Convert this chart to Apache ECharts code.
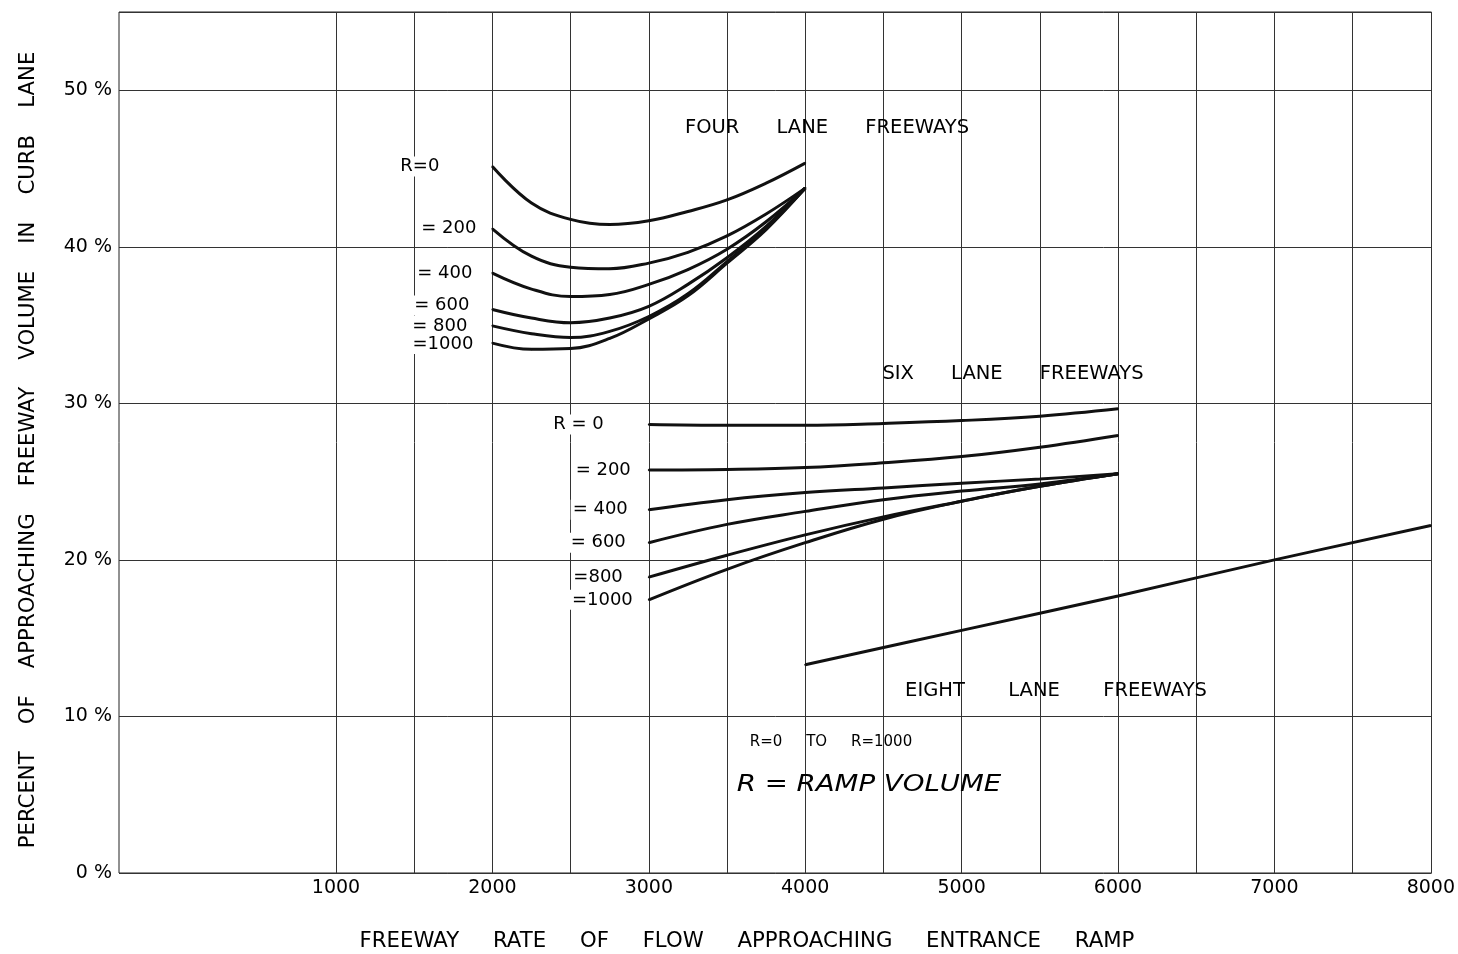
<!DOCTYPE html>
<html><head><meta charset="utf-8">
<script src="https://cdn.jsdelivr.net/npm/echarts@6/dist/echarts.min.js"></script>
<style>html,body{margin:0;padding:0;background:#fff}#c{width:1458px;height:954px}</style>
</head><body><div id="c"></div>
<script>
// ---- data ----
const xTicks = [1000, 2000, 3000, 4000, 5000, 6000, 7000, 8000];
const yTicks = [0, 10, 20, 30, 40, 50];

const fourX = [2000, 2250, 2500, 2750, 3000, 3250, 3500, 3750, 4000];
const fourR0    = [45.13, 42.8, 41.75, 41.42, 41.66, 42.26, 43.0, 44.07, 45.35];
const fourR200  = [41.15, 39.4, 38.7, 38.6, 38.96, 39.65, 40.7, 42.1, 43.75];
const fourR400  = [38.32, 37.3, 36.82, 36.95, 37.6, 38.55, 39.85, 41.6, 43.75];
const fourR600  = [36.0, 35.45, 35.15, 35.45, 36.2, 37.6, 39.3, 41.3, 43.75];
const fourR800  = [34.95, 34.45, 34.2, 34.6, 35.55, 37.0, 39.06, 41.2, 43.75];
const fourR1000 = [33.85, 33.45, 33.5, 34.15, 35.4, 36.87, 38.96, 41.1, 43.75];
const fourLabels = ['R=0', '= 200', '= 400', '= 600', '= 800', '=1000'];

const sixX = [3000, 3500, 4000, 4500, 5000, 5500, 6000];
const sixR0    = [28.65, 28.6, 28.6, 28.72, 28.9, 29.18, 29.65];
const sixR200  = [25.75, 25.78, 25.9, 26.2, 26.6, 27.2, 27.95];
const sixR400  = [23.2, 23.85, 24.3, 24.6, 24.9, 25.17, 25.5];
const sixR600  = [21.1, 22.27, 23.1, 23.85, 24.4, 24.85, 25.5];
const sixR800  = [18.9, 20.3, 21.6, 22.75, 23.75, 24.7, 25.5];
const sixR1000 = [17.45, 19.4, 21.1, 22.6, 23.75, 24.7, 25.5];
const sixLabels = ['R = 0', '= 200', '= 400', '= 600', '=800', '=1000'];

const eightX = [4000, 5000, 6000, 7000, 8000];
const eightAll = [13.3, 15.5, 17.7, 20.0, 22.2];

// ---- styles ----
const FONT = '"DejaVu Sans", "Liberation Sans", sans-serif';
const fourGap = [50, 13, 17, 20, 22, 16];
const fourLift = [0, 0, 0, -4, 0, 1];
const sixGap = [42, 15, 18, 20, 23, 13];
const sixLift = [0, 0, 0, 0, 0, 0];

function mk(xs, ys, label, gap, lift) {
  const data = xs.map((x, i) => {
    if (i === 0 && label) {
      return {
        value: [x, ys[i]],
        label: {
          show: true, position: 'left', distance: gap, formatter: label, offset: [0, lift],
          color: '#000', fontSize: 18, fontFamily: FONT,
          backgroundColor: '#fff', padding: [1, 2]
        }
      };
    }
    return [x, ys[i]];
  });
  return {
    type: 'line', xAxisIndex: 1, yAxisIndex: 1, data,
    smooth: 0.4, showSymbol: true, showAllSymbol: true,
    symbol: 'circle', symbolSize: 2,
    itemStyle: { color: '#111' },
    lineStyle: { color: '#111', width: 3 },
    silent: true, animation: false, z: 3
  };
}

const fourSets = [fourR0, fourR200, fourR400, fourR600, fourR800, fourR1000];
const sixSets = [sixR0, sixR200, sixR400, sixR600, sixR800, sixR1000];
const series = [];
fourSets.forEach((s, i) => series.push(mk(fourX, s, fourLabels[i], fourGap[i], fourLift[i])));
sixSets.forEach((s, i) => series.push(mk(sixX, s, sixLabels[i], sixGap[i], sixLift[i])));
series.push(mk(eightX, eightAll, null, 0, 0));

const gridColor = '#333';
const chart = echarts.init(document.getElementById('c'), null, { renderer: 'canvas' });
chart.setOption({
  backgroundColor: '#fff',
  animation: false,
  grid: [
    { left: 119, right: 26.5, top: 12, bottom: 81, show: true, borderColor: '#222', borderWidth: 1, backgroundColor: 'transparent' },
    { left: 336, right: 26.5, top: 12, bottom: 81 }
  ],
  xAxis: [
    { type: 'value', gridIndex: 0, min: -387, max: 8000,
      axisLine: { show: false }, axisTick: { show: false }, axisLabel: { show: false }, splitLine: { show: false } },
    { type: 'value', gridIndex: 1, min: 1000, max: 8000, interval: 500,
      axisLine: { show: false }, axisTick: { show: false },
      axisLabel: { margin: 6, color: '#000', fontSize: 19, fontFamily: FONT,
        formatter: v => xTicks.includes(v) ? String(v) : '' },
      splitLine: { show: true, lineStyle: { color: gridColor, width: 1 } } }
  ],
  yAxis: [
    { type: 'value', gridIndex: 0, min: 0, max: 55, interval: 10,
      axisLine: { show: false }, axisTick: { show: false },
      axisLabel: { margin: 7, color: '#000', fontSize: 19, fontFamily: FONT,
        formatter: v => yTicks.includes(v) ? v + ' %' : '' },
      splitLine: { show: true, lineStyle: { color: gridColor, width: 1 } } },
    { type: 'value', gridIndex: 1, min: 0, max: 55, show: false, splitLine: { show: false } }
  ],
  series,
  graphic: [
    { type: 'text', x: 28, y: 450, rotation: Math.PI / 2, z: 10,
      style: { text: 'PERCENT    OF    APPROACHING    FREEWAY    VOLUME    IN    CURB    LANE',
        fill: '#000', font: '21.25px ' + FONT, align: 'center', verticalAlign: 'middle' } },
    { type: 'text', x: 747, y: 941, z: 10,
      style: { text: 'FREEWAY     RATE     OF     FLOW     APPROACHING     ENTRANCE     RAMP',
        fill: '#000', font: '21.25px ' + FONT, align: 'center', verticalAlign: 'middle' } },
    { type: 'text', x: 827, y: 128, z: 10,
      style: { text: 'FOUR      LANE      FREEWAYS', fill: '#000', font: '19.5px ' + FONT, align: 'center', verticalAlign: 'middle' } },
    { type: 'text', x: 1013, y: 374, z: 10,
      style: { text: 'SIX      LANE      FREEWAYS', fill: '#000', font: '19.5px ' + FONT, align: 'center', verticalAlign: 'middle' } },
    { type: 'text', x: 1056, y: 691, z: 10,
      style: { text: 'EIGHT       LANE       FREEWAYS', fill: '#000', font: '19.5px ' + FONT, align: 'center', verticalAlign: 'middle' } },
    { type: 'text', x: 831, y: 742, z: 10,
      style: { text: 'R=0     TO     R=1000', fill: '#000', font: '15px ' + FONT, align: 'center', verticalAlign: 'middle' } },
    { type: 'text', x: 869, y: 785, z: 10, scaleX: 1.2,
      style: { text: 'R = RAMP VOLUME', fill: '#000', font: 'italic 23px ' + FONT, align: 'center', verticalAlign: 'middle' } }
  ]
});
</script></body></html>
